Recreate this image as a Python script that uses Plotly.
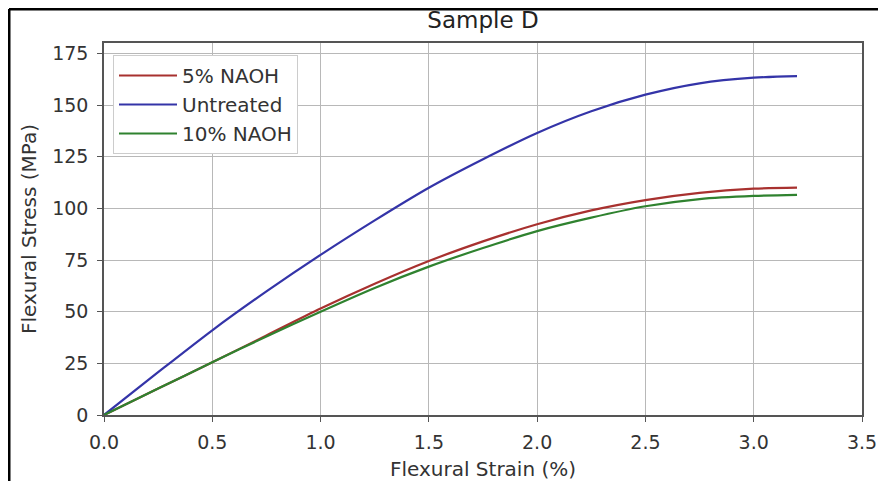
import plotly.graph_objects as go

# Data
strain = [0.0, 0.25, 0.5, 0.75, 1.0, 1.25, 1.5, 1.75, 2.0, 2.25, 2.5, 2.75, 3.0, 3.2]
naoh5 = [0, 12.8, 25.5, 38.5, 51.5, 63.5, 74.5, 84, 92.3, 99, 104, 107.5, 109.5, 110]
untreated = [0, 20.7, 41, 59.8, 77.5, 94.2, 110, 123.8, 136.5, 147, 155, 160.5, 163.2, 164]
naoh10 = [0, 12.8, 25.5, 38, 50, 61.5, 71.8, 80.8, 89, 95.5, 101, 104.5, 106, 106.5]

series_names = ["5% NAOH", "Untreated", "10% NAOH"]
series_vals = [naoh5, untreated, naoh10]
series_colors = ["#a8312f", "#3434a8", "#2f822f"]

x_ticks = [0.0, 0.5, 1.0, 1.5, 2.0, 2.5, 3.0, 3.5]
x_tick_labels = ["0.0", "0.5", "1.0", "1.5", "2.0", "2.5", "3.0", "3.5"]
y_ticks = [0, 25, 50, 75, 100, 125, 150, 175]

FONT = "DejaVu Sans"
TXT = "#333333"

fig = go.Figure()
for name, vals, col in zip(series_names, series_vals, series_colors):
    fig.add_trace(go.Scatter(
        x=strain, y=vals, mode="lines", name=name,
        line=dict(color=col, width=2.2, shape="spline", smoothing=0.8),
    ))

# page body has an 8px margin: place the figure so absolute pixels match
OFF = 8
PW, PH = 886, 481
W, H = PW - OFF, PH - OFF
L, R, T, B = 104 - OFF, PW - 862, 43 - OFF, PH - 415
pw = W - L - R
ph = H - T - B

fig.update_layout(
    width=W, height=H,
    margin=dict(l=L, r=R, t=T, b=B, autoexpand=False),
    paper_bgcolor="white", plot_bgcolor="white",
    font=dict(family=FONT, size=19, color=TXT),
    title=dict(text="Sample D", x=(L + pw / 2) / W, xanchor="center",
               y=1 - (20 - OFF) / H, yanchor="middle", yref="container",
               font=dict(family=FONT, size=23, color="#222222")),
    legend=dict(x=(113 - 104) / pw, y=(415 - 55) / ph,
                xanchor="left", yanchor="top", itemwidth=58,
                bgcolor="white", bordercolor="#cccccc", borderwidth=1,
                font=dict(family=FONT, size=20, color=TXT)),
    showlegend=True,
)

fig.update_xaxes(
    range=[0, 3.5], tickvals=x_ticks, ticktext=x_tick_labels,
    showgrid=True, gridcolor="#b8b8b8", gridwidth=1,
    showline=True, linecolor="#555555", linewidth=1.5, mirror=True,
    ticks="outside", ticklen=5, tickcolor="#555555",
    zeroline=False, ticklabelstandoff=4,
    tickfont=dict(family=FONT, size=19, color=TXT),
    title=dict(text="Flexural Strain (%)", standoff=12,
               font=dict(family=FONT, size=20, color=TXT)),
)
fig.update_yaxes(
    range=[0, 180], tickvals=y_ticks,
    showgrid=True, gridcolor="#b8b8b8", gridwidth=1,
    showline=True, linecolor="#555555", linewidth=1.5, mirror=True,
    ticks="outside", ticklen=5, tickcolor="#555555",
    zeroline=False, ticklabelstandoff=5,
    tickfont=dict(family=FONT, size=19, color=TXT),
    title=dict(text="Flexural Stress (MPa)", standoff=10,
               font=dict(family=FONT, size=20, color=TXT)),
)

# Outer frame lines (top and left) as in the reference image
fx = (9 - 104) / pw
fy = (415 - 9) / ph
fig.add_shape(type="line", xref="paper", yref="paper",
              x0=fx, x1=(PW - 104 + 5) / pw, y0=fy, y1=fy,
              line=dict(color="black", width=3))
fig.add_shape(type="line", xref="paper", yref="paper",
              x0=fx, x1=fx, y0=fy, y1=(415 - PH - 5) / ph,
              line=dict(color="black", width=3))

fig.write_html("out.html")
